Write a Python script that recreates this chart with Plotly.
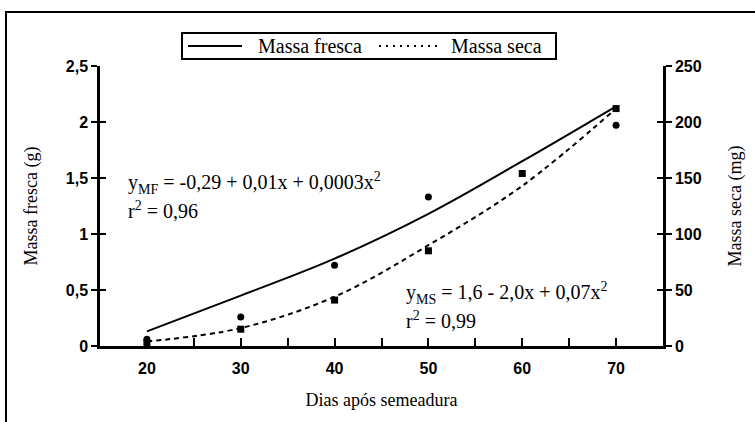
import plotly.graph_objects as go

# ---- data ----
dias = [20, 30, 40, 50, 60, 70]
dias_mf_obs = [20, 30, 40, 50, 70]
massa_fresca_obs = [0.06, 0.26, 0.72, 1.33, 1.97]          # g (left axis)
massa_seca_obs = [3, 15, 41, 85, 154, 212]                # mg (right axis)
massa_fresca_fit = [0.13, 0.45, 0.78, 1.18, 1.65, 2.14]   # g
massa_seca_fit = [4, 16, 44, 90, 143, 212]                # mg

x_tickvals = [20, 30, 40, 50, 60, 70]
x_ticktext = ["20", "30", "40", "50", "60", "70"]
y1_tickvals = [0, 0.5, 1, 1.5, 2, 2.5]
y1_ticktext = ["0", "0,5", "1", "1,5", "2", "2,5"]
y2_tickvals = [0, 50, 100, 150, 200, 250]
y2_ticktext = ["0", "50", "100", "150", "200", "250"]
legend_names = ["Massa fresca", "Massa seca"]

SERIF = "Liberation Serif, Times New Roman, serif"
SANS = "Liberation Sans, Arial, sans-serif"
tickfont = dict(family=SANS, size=16, color="black", weight="bold")

# plot area in page pixels: x 100..663, y 66..346
def PX(px):
    return (px - 100) / 563.0

def PY(py):
    return (346 - py) / 280.0

fig = go.Figure()
fig.add_trace(go.Scatter(x=dias, y=massa_fresca_fit, mode="lines", name=legend_names[0],
                         line=dict(color="black", width=2, shape="spline"), yaxis="y"))
fig.add_trace(go.Scatter(x=dias, y=massa_seca_fit, mode="lines", name=legend_names[1],
                         line=dict(color="black", width=2, dash="5px,4px", shape="spline"), yaxis="y2"))
fig.add_trace(go.Scatter(x=dias_mf_obs, y=massa_fresca_obs, mode="markers",
                         marker=dict(symbol="circle", size=7, color="black"), yaxis="y"))
fig.add_trace(go.Scatter(x=dias, y=massa_seca_obs, mode="markers",
                         marker=dict(symbol="square", size=7, color="black"), yaxis="y2"))
# dummy traces to activate the overlay axes used for crossing ticks
fig.add_trace(go.Scatter(x=[None], y=[None], yaxis="y3", hoverinfo="skip"))
fig.add_trace(go.Scatter(x=[None], y=[None], yaxis="y4", hoverinfo="skip"))

axis_common = dict(showgrid=False, zeroline=False, linecolor="black", tickcolor="black",
                   tickwidth=2)
titlefont = dict(family=SERIF, size=18, color="black")

fig.update_layout(
    width=755, height=422,
    margin=dict(l=100, r=92, t=66, b=76),
    paper_bgcolor="white", plot_bgcolor="white",
    showlegend=False,
    xaxis=dict(range=[15, 75], tickvals=x_tickvals, ticktext=x_ticktext,
               ticks="inside", ticklen=8, showline=True, linewidth=2.5,
               minor=dict(tick0=15, dtick=5, ticks="inside", ticklen=8, tickwidth=2,
                          tickcolor="black", showgrid=False),
               tickfont=tickfont, ticklabelstandoff=6,
               title=dict(text="Dias após semeadura", font=titlefont, standoff=18),
               **axis_common),
    yaxis=dict(range=[0, 2.5], tickvals=y1_tickvals, ticktext=y1_ticktext,
               ticks="outside", ticklen=6, showline=True, linewidth=2.5,
               tickfont=tickfont,
               title=dict(text="Massa fresca (g)", font=titlefont, standoff=24),
               **axis_common),
    yaxis2=dict(range=[0, 250], tickvals=y2_tickvals, ticktext=y2_ticktext,
                overlaying="y", side="right", anchor="x",
                ticks="outside", ticklen=6, showline=True, linewidth=2.5,
                tickfont=tickfont,
                title=dict(text="Massa seca (mg)", font=titlefont, standoff=28),
                **axis_common),
    yaxis3=dict(range=[0, 2.5], tickvals=y1_tickvals, overlaying="y", side="left", anchor="x",
                ticks="inside", ticklen=6, showticklabels=False, showline=False, **axis_common),
    yaxis4=dict(range=[0, 250], tickvals=y2_tickvals, overlaying="y", side="right", anchor="x",
                ticks="inside", ticklen=6, showticklabels=False, showline=False, **axis_common),
)

eqfont = dict(family=SERIF, size=20, color="black")
fig.add_annotation(xref="paper", yref="paper", x=PX(126), y=PY(183),
                   xanchor="left", yanchor="middle", showarrow=False, font=eqfont,
                   text="y<sub>MF</sub> = -0,29 + 0,01x + 0,0003x<sup>2</sup>")
fig.add_annotation(xref="paper", yref="paper", x=PX(126), y=PY(210),
                   xanchor="left", yanchor="middle", showarrow=False, font=eqfont,
                   text="r<sup>2</sup> = 0,96")
fig.add_annotation(xref="paper", yref="paper", x=PX(404), y=PY(293),
                   xanchor="left", yanchor="middle", showarrow=False, font=eqfont,
                   text="y<sub>MS</sub> = 1,6 - 2,0x + 0,07x<sup>2</sup>")
fig.add_annotation(xref="paper", yref="paper", x=PX(404), y=PY(320),
                   xanchor="left", yanchor="middle", showarrow=False, font=eqfont,
                   text="r<sup>2</sup> = 0,99")

# ---- manual legend box ----
fig.add_shape(type="rect", xref="paper", yref="paper", x0=PX(182), x1=PX(556), y0=PY(59), y1=PY(33),
              line=dict(color="black", width=2), fillcolor="white")
fig.add_shape(type="line", xref="paper", yref="paper", x0=PX(188), x1=PX(242), y0=PY(46), y1=PY(46),
              line=dict(color="black", width=2))
fig.add_shape(type="line", xref="paper", yref="paper", x0=PX(379), x1=PX(440), y0=PY(46), y1=PY(46),
              line=dict(color="black", width=2, dash="2px,5px"))
legfont = dict(family=SERIF, size=20, color="black")
fig.add_annotation(xref="paper", yref="paper", x=PX(256), y=PY(46), xanchor="left", yanchor="middle",
                   showarrow=False, font=legfont, text=legend_names[0])
fig.add_annotation(xref="paper", yref="paper", x=PX(449), y=PY(46), xanchor="left", yanchor="middle",
                   showarrow=False, font=legfont, text=legend_names[1])

# outer frame (cut off on right and bottom in the reference)
fig.add_shape(type="rect", xref="paper", yref="paper",
              x0=PX(6), x1=PX(780), y0=PY(440), y1=PY(12),
              line=dict(color="black", width=2), fillcolor="rgba(0,0,0,0)", layer="below")

fig.write_html("out.html", config={"displayModeBar": False},
               post_script="document.body.style.margin='0px';")
